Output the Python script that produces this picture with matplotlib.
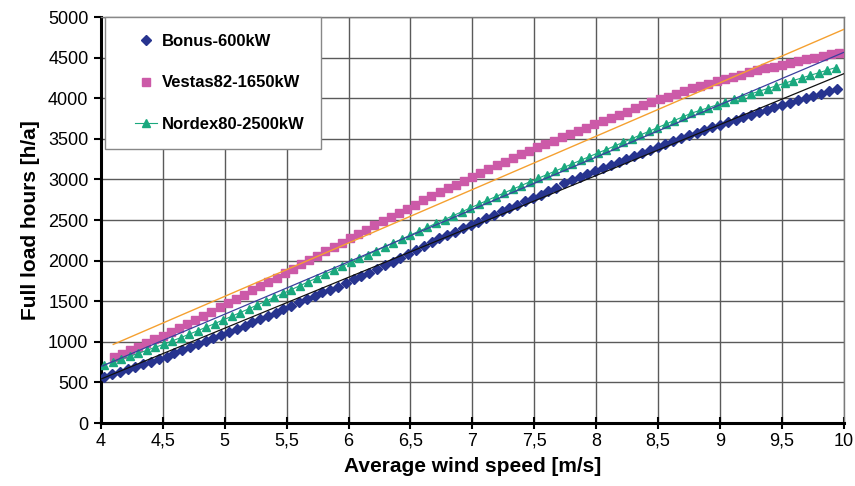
import numpy as np
import matplotlib
matplotlib.use("Agg")
import matplotlib.pyplot as plt
from matplotlib.lines import Line2D
from matplotlib.legend_handler import HandlerLine2D
from matplotlib.ticker import FuncFormatter, MultipleLocator

plt.rcParams['font.family'] = ['Liberation Sans Narrow', 'Liberation Sans', 'DejaVu Sans']

# wind speed grids (each series sampled on its own even grid)
bonus_x = np.linspace(4.027, 9.943, 95)
vestas_x = np.linspace(4.103, 9.959, 90)
nordex_x = np.linspace(4.027, 9.935, 87)

bonus_y = [566, 606, 634, 663, 695, 724, 756, 789, 817, 859,
           895, 932, 968, 1008, 1041, 1078, 1118, 1159, 1200, 1240,
           1277, 1317, 1359, 1401, 1443, 1485, 1527, 1570, 1611, 1644,
           1681, 1730, 1771, 1812, 1853, 1895, 1940, 1985, 2033, 2081,
           2129, 2177, 2225, 2273, 2314, 2351, 2396, 2438, 2479, 2525,
           2562, 2607, 2645, 2688, 2730, 2771, 2813, 2855, 2896, 2950,
           2990, 3028, 3062, 3100, 3140, 3180, 3218, 3256, 3292, 3328,
           3364, 3399, 3435, 3470, 3506, 3541, 3575, 3608, 3640, 3672,
           3703, 3734, 3765, 3795, 3825, 3860, 3888, 3916, 3944, 3972,
           4000, 4028, 4057, 4086, 4115]

vestas_y = [810, 852, 895, 939, 984, 1030, 1077, 1124, 1172, 1221,
            1271, 1321, 1372, 1423, 1475, 1527, 1579, 1632, 1685, 1738,
            1791, 1845, 1899, 1953, 2007, 2061, 2115, 2169, 2223, 2276,
            2329, 2382, 2435, 2487, 2539, 2590, 2641, 2691, 2741, 2791,
            2840, 2889, 2937, 2985, 3033, 3080, 3127, 3173, 3218, 3263,
            3307, 3350, 3393, 3435, 3477, 3518, 3559, 3599, 3638, 3677,
            3716, 3754, 3796, 3836, 3874, 3911, 3950, 3985, 4019, 4052,
            4084, 4120, 4151, 4181, 4210, 4238, 4265, 4291, 4317, 4342,
            4366, 4390, 4413, 4435, 4457, 4478, 4499, 4519, 4539, 4559]

nordex_y = [718, 752, 787, 822, 858, 895, 932, 970, 1011, 1052,
            1094, 1137, 1181, 1225, 1270, 1315, 1361, 1407, 1454, 1501,
            1548, 1595, 1643, 1691, 1739, 1787, 1835, 1883, 1931, 1979,
            2027, 2075, 2123, 2171, 2219, 2267, 2315, 2363, 2411, 2459,
            2506, 2553, 2600, 2647, 2694, 2741, 2787, 2833, 2879, 2924,
            2969, 3013, 3058, 3102, 3147, 3191, 3236, 3280, 3325, 3367,
            3412, 3457, 3502, 3546, 3591, 3636, 3680, 3725, 3770, 3815,
            3849, 3883, 3917, 3951, 3985, 4019, 4053, 4086, 4119, 4152,
            4185, 4218, 4250, 4282, 4314, 4346, 4378]

# linear trend lines (start / end)
trend_bonus_x = [4.0, 10.0]
trend_bonus_y = [541, 4302]
trend_nordex_x = [4.0, 10.0]
trend_nordex_y = [695, 4565]
trend_vestas_x = [4.1, 10.0]
trend_vestas_y = [968, 4848]

fig = plt.figure(figsize=(8.55, 4.86), dpi=100)
ax = fig.add_axes([0.118, 0.1296, 0.869, 0.8354])

ax.plot(bonus_x, bonus_y, linestyle='none', marker='D', ms=5,
        color='#27348f', label='Bonus-600kW', zorder=3)
ax.plot(vestas_x, vestas_y, linestyle='none', marker='s', ms=5.8,
        color='#cc5aa8', label='Vestas82-1650kW', zorder=3)
ax.plot(nordex_x, nordex_y, linestyle='-', lw=0.8, marker='^', ms=5.8,
        color='#1aa87e', label='Nordex80-2500kW', zorder=3)

ax.plot(trend_bonus_x, trend_bonus_y, color='#111111', lw=0.9, zorder=4)
ax.plot(trend_nordex_x, trend_nordex_y, color='#3b3f9e', lw=0.9, zorder=4)
ax.plot(trend_vestas_x, trend_vestas_y, color='#f5a030', lw=1.0, zorder=4)

ax.set_xlim(4, 10)
ax.set_ylim(0, 5000)
ax.xaxis.set_major_locator(MultipleLocator(0.5))
ax.yaxis.set_major_locator(MultipleLocator(500))
ax.xaxis.set_major_formatter(FuncFormatter(lambda v, p: f"{v:g}".replace('.', ',')))
ax.yaxis.set_major_formatter(FuncFormatter(lambda v, p: f"{int(v)}"))

ax.grid(True, color='#5a5a5a', lw=1.0)
ax.set_axisbelow(True)
for side in ['top', 'right']:
    ax.spines[side].set_color('#7a7a7a')
    ax.spines[side].set_linewidth(1.0)
for side in ['left', 'bottom']:
    ax.spines[side].set_color('black')
    ax.spines[side].set_linewidth(2.2)

ax.tick_params(axis='x', direction='inout', length=8, width=1.5, labelsize=13, pad=3)
ax.tick_params(axis='y', direction='out', length=5, width=1.5, labelsize=13, pad=4)

ax.set_xlabel('Average wind speed [m/s]', fontsize=15, fontweight='bold',
              family=['Liberation Sans', 'DejaVu Sans'], labelpad=5)
ax.set_ylabel('Full load hours [h/a]', fontsize=15, fontweight='bold',
              family=['Liberation Sans', 'DejaVu Sans'], labelpad=6)

leg = ax.legend(loc='upper left', bbox_to_anchor=(0.006, 1.0), frameon=True,
                fancybox=False, edgecolor='#888888', framealpha=1,
                labelspacing=1.6, borderpad=1.0, handlelength=2.1,
                handletextpad=0.3, borderaxespad=0.0,
                handler_map={Line2D: HandlerLine2D(xpad=0.8)},
                prop={'family': ['Liberation Sans', 'DejaVu Sans'],
                      'weight': 'bold', 'size': 12})
leg.get_frame().set_linewidth(1.0)

fig.savefig('out.png', dpi=100)
